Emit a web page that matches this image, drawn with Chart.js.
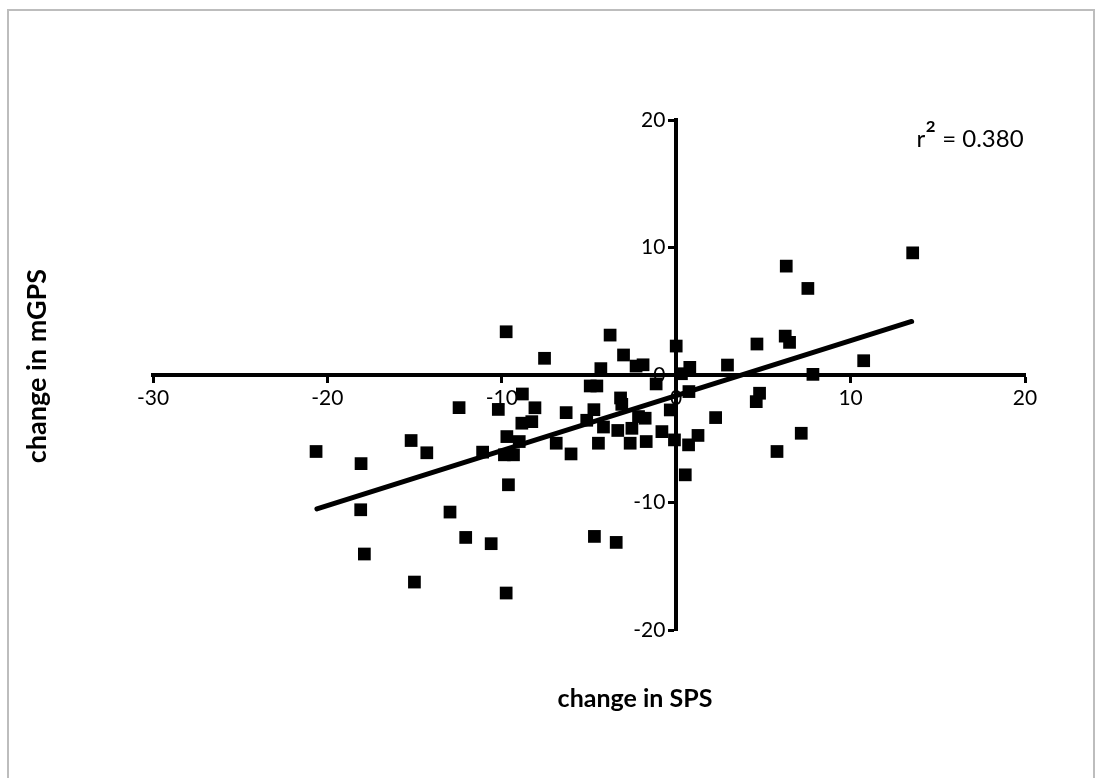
<!DOCTYPE html>
<html>
<head>
<meta charset="utf-8">
<script src="https://cdn.jsdelivr.net/npm/chart.js@4/dist/chart.umd.min.js"></script>
<style>
  body { margin: 0; background: #fff; }
  #wrap { position: relative; width: 1101px; height: 778px; overflow: hidden; }
  #frame { position: absolute; left: 7px; top: 9px; width: 1084px; height: 800px; border: 2px solid #bdbdbd; pointer-events: none; }
  .lbl { position: absolute; font-family: Lato, sans-serif; color: #000; white-space: nowrap; }
  #xtitle { left: 635px; top: 697px; transform: translate(-50%, -50%); font-weight: bold; font-size: 25px; }
  #ytitle { left: 35px; top: 366px; transform: translate(-50%, -50%) rotate(-90deg); font-weight: bold; font-size: 27px; }
  #r2 { left: 970px; top: 137px; transform: translate(-50%, -50%); font-size: 24px; }
  #r2 span { font-size: 1.35em; line-height: 0; }
</style>
</head>
<body>
<div id="wrap">
  <canvas id="chart" width="1101" height="778"></canvas>
  <div id="frame"></div>
  <div class="lbl" id="xtitle">change in SPS</div>
  <div class="lbl" id="ytitle">change in mGPS</div>
  <div class="lbl" id="r2">r<span>²</span> = 0.380</div>
</div>
<script>
// change in SPS (x) and change in mGPS (y) for each subject
const spsChange = [
  -20.65, -18.07, -15.2, -14.3, -12.45, -11.1, -9.75, -3.79, -7.55, -3.02,
  -4.32, -2.3, -1.9, 0, 0.78, -4.93, -4.55, -1.15, -8.82, -10.2,
  -8.1, -6.31, -3.19, -3.12, -4.72, -2.16, -1.78, -0.34, 0.73, -8.28,
  -8.85, -9.71, -9.0, -6.88, -6.03, -4.17, -4.46, -3.35, -2.54, -2.64,
  -1.72, -0.82, -0.1, 0.71, 1.25, 0.52, -9.85, -9.33, -9.62, 13.56,
  6.31, 7.55, 6.25, 6.5, 4.63, 2.94, 0.3, 7.84, 10.75, 4.78,
  4.59, 2.26, 7.17, 5.78, -18.09, -17.88, -15.01, -12.97, -12.07, -10.61,
  -9.75, -4.69, -3.44, -5.13
];
const mgpsChange = [
  -6.0, -6.95, -5.14, -6.1, -2.56, -6.05, 3.39, 3.13, 1.31, 1.57,
  0.5, 0.7, 0.8, 2.27, 0.6, -0.86, -0.86, -0.7, -1.49, -2.7,
  -2.57, -2.95, -1.8, -2.3, -2.72, -3.26, -3.39, -2.74, -1.3, -3.66,
  -3.78, -4.83, -5.22, -5.35, -6.19, -4.08, -5.35, -4.35, -4.18, -5.35,
  -5.22, -4.44, -5.09, -5.48, -4.74, -7.83, -6.26, -6.26, -8.61, 9.58,
  8.54, 6.79, 3.05, 2.56, 2.43, 0.78, 0.1, 0.05, 1.12, -1.43,
  -2.09, -3.34, -4.57, -6.0, -10.57, -14.04, -16.24, -10.75, -12.74, -13.23,
  -17.1, -12.66, -13.13, -3.55
];

// linear fit end points
const fitX = [-20.6, 13.5];
const fitY = [-10.5, 4.2];

const xTicks = [-30, -20, -10, 0, 10, 20];
const yTicks = [-20, -10, 0, 10, 20];

const points = spsChange.map((x, i) => ({ x: x, y: mgpsChange[i] }));
const fitLine = fitX.map((x, i) => ({ x: x, y: fitY[i] }));

const tickFont = { family: 'Lato', size: 21 };

new Chart(document.getElementById('chart'), {
  type: 'scatter',
  data: {
    datasets: [
      {
        label: 'fit',
        data: fitLine,
        showLine: true,
        borderColor: '#000',
        borderWidth: 5,
        borderCapStyle: 'round',
        pointRadius: 0,
        order: 1
      },
      {
        label: 'subjects',
        data: points,
        pointStyle: 'rect',
        pointRadius: 9,
        backgroundColor: '#000',
        borderColor: '#000',
        borderWidth: 0,
        order: 2
      }
    ]
  },
  options: {
    responsive: false,
    animation: false,
    layout: { padding: { left: 153, right: 76, top: 120, bottom: 148 } },
    plugins: { legend: { display: false }, tooltip: { enabled: false } },
    scales: {
      x: {
        type: 'linear',
        position: { y: 0 },
        min: -30,
        max: 20,
        afterBuildTicks: (axis) => { axis.ticks = xTicks.map(v => ({ value: v })); },
        grid: { drawOnChartArea: false, drawTicks: true, tickLength: 6, tickWidth: 3, color: '#000' },
        border: { color: '#000', width: 4 },
        ticks: { color: '#000', font: tickFont, padding: 5 }
      },
      y: {
        type: 'linear',
        position: { x: 0 },
        min: -20,
        max: 20,
        afterBuildTicks: (axis) => { axis.ticks = yTicks.map(v => ({ value: v })); },
        grid: { drawOnChartArea: false, drawTicks: true, tickLength: 6, tickWidth: 3, color: '#000' },
        border: { color: '#000', width: 4 },
        // trailing spaces push the right-aligned labels off the axis line
        ticks: { color: '#000', font: tickFont, callback: (v) => v + '  ' }
      }
    }
  }
});
</script>
</body>
</html>
